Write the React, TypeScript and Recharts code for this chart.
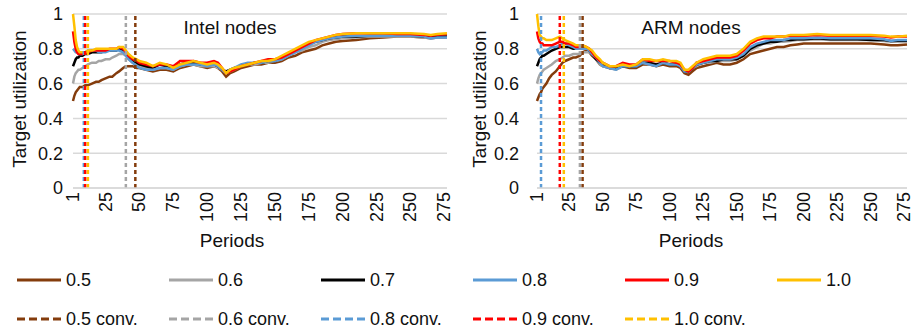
import React from "react";
import { LineChart, Line, XAxis, YAxis, CartesianGrid, ReferenceLine } from "recharts";

const FONT = '"Liberation Sans", Arial, sans-serif';

const periods = [
  1, 2, 3, 4, 5, 6, 8, 10, 12, 15,
  18, 20, 22, 25, 28, 30, 33, 35, 38, 40,
  42, 45, 48, 50, 55, 60, 65, 70, 75, 80,
  85, 90, 95, 100, 105, 108, 111, 114, 117, 120,
  125, 130, 135, 140, 145, 150, 155, 160, 165, 170,
  175, 180, 185, 190, 195, 200, 210, 220, 230, 240,
  250, 260, 265, 270, 277,
];

const xTicks = [1, 25, 50, 75, 100, 125, 150, 175, 200, 225, 250, 275];
const yTicks = [0, 0.2, 0.4, 0.6, 0.8, 1];

const seriesNames = ["0.5", "0.6", "0.7", "0.8", "0.9", "1.0"];
const seriesColors = ["#843C0C", "#A5A5A5", "#000000", "#5B9BD5", "#FF0000", "#FFC000"];

// Intel nodes
const intel05 = [
  0.50, 0.53, 0.55, 0.56, 0.57, 0.58, 0.58, 0.59, 0.59, 0.60,
  0.61, 0.61, 0.62, 0.63, 0.64, 0.64, 0.66, 0.67, 0.69, 0.70,
  0.70, 0.70, 0.69, 0.69, 0.68, 0.67, 0.68, 0.68, 0.67, 0.69,
  0.70, 0.71, 0.70, 0.69, 0.70, 0.69, 0.67, 0.64, 0.66, 0.67,
  0.69, 0.70, 0.71, 0.71, 0.72, 0.72, 0.73, 0.75, 0.76, 0.78,
  0.79, 0.80, 0.82, 0.83, 0.84, 0.845, 0.85, 0.86, 0.865, 0.87,
  0.87, 0.865, 0.86, 0.865, 0.865,
];
const intel06 = [
  0.60, 0.64, 0.66, 0.67, 0.68, 0.68, 0.69, 0.70, 0.71, 0.72,
  0.72, 0.73, 0.73, 0.74, 0.74, 0.75, 0.76, 0.77, 0.77, 0.76,
  0.74, 0.72, 0.71, 0.70, 0.69, 0.68, 0.69, 0.69, 0.68, 0.70,
  0.71, 0.71, 0.70, 0.70, 0.70, 0.69, 0.68, 0.66, 0.67, 0.68,
  0.70, 0.71, 0.71, 0.72, 0.72, 0.73, 0.74, 0.76, 0.78, 0.79,
  0.81, 0.82, 0.84, 0.85, 0.855, 0.86, 0.865, 0.87, 0.87, 0.87,
  0.87, 0.865, 0.86, 0.865, 0.865,
];
const intel07 = [
  0.70, 0.72, 0.74, 0.75, 0.75, 0.76, 0.76, 0.77, 0.77, 0.78,
  0.78, 0.78, 0.78, 0.79, 0.79, 0.79, 0.79, 0.80, 0.79, 0.77,
  0.75, 0.73, 0.72, 0.71, 0.70, 0.69, 0.71, 0.70, 0.69, 0.71,
  0.72, 0.72, 0.71, 0.71, 0.71, 0.70, 0.68, 0.67, 0.68, 0.69,
  0.70, 0.71, 0.72, 0.72, 0.73, 0.73, 0.75, 0.77, 0.79, 0.81,
  0.83, 0.84, 0.85, 0.86, 0.865, 0.87, 0.87, 0.875, 0.875, 0.875,
  0.875, 0.87, 0.865, 0.87, 0.87,
];
const intel08 = [
  0.80, 0.79, 0.78, 0.78, 0.77, 0.77, 0.77, 0.78, 0.79, 0.79,
  0.79, 0.78, 0.78, 0.78, 0.79, 0.79, 0.79, 0.79, 0.78, 0.76,
  0.74, 0.72, 0.70, 0.69, 0.68, 0.68, 0.69, 0.69, 0.68, 0.70,
  0.71, 0.71, 0.71, 0.70, 0.71, 0.70, 0.68, 0.66, 0.68, 0.69,
  0.71, 0.72, 0.72, 0.72, 0.73, 0.73, 0.74, 0.76, 0.78, 0.80,
  0.82, 0.84, 0.85, 0.86, 0.865, 0.87, 0.875, 0.875, 0.875, 0.875,
  0.875, 0.87, 0.86, 0.865, 0.865,
];
const intel09 = [
  0.90, 0.84, 0.80, 0.78, 0.77, 0.77, 0.77, 0.78, 0.78, 0.79,
  0.79, 0.79, 0.79, 0.79, 0.80, 0.80, 0.80, 0.81, 0.80, 0.78,
  0.76, 0.74, 0.73, 0.72, 0.71, 0.70, 0.71, 0.71, 0.70, 0.73,
  0.73, 0.73, 0.72, 0.72, 0.73, 0.72, 0.69, 0.66, 0.67, 0.68,
  0.70, 0.71, 0.72, 0.73, 0.74, 0.74, 0.75, 0.77, 0.79, 0.81,
  0.83, 0.85, 0.86, 0.87, 0.88, 0.885, 0.89, 0.89, 0.89, 0.885,
  0.885, 0.88, 0.875, 0.88, 0.885,
];
const intel10 = [
  1.00, 0.93, 0.85, 0.81, 0.79, 0.78, 0.78, 0.78, 0.79, 0.79,
  0.80, 0.80, 0.80, 0.80, 0.80, 0.80, 0.80, 0.81, 0.81, 0.79,
  0.77, 0.75, 0.74, 0.73, 0.72, 0.70, 0.72, 0.71, 0.69, 0.71,
  0.72, 0.73, 0.72, 0.71, 0.72, 0.71, 0.69, 0.66, 0.68, 0.69,
  0.70, 0.71, 0.72, 0.73, 0.73, 0.74, 0.76, 0.78, 0.80, 0.82,
  0.84, 0.85, 0.86, 0.87, 0.88, 0.885, 0.89, 0.89, 0.89, 0.89,
  0.89, 0.885, 0.88, 0.885, 0.89,
];

// ARM nodes
const arm05 = [
  0.50, 0.52, 0.54, 0.55, 0.57, 0.58, 0.60, 0.63, 0.65, 0.67,
  0.70, 0.72, 0.73, 0.74, 0.75, 0.75, 0.76, 0.78, 0.79, 0.78,
  0.76, 0.74, 0.71, 0.70, 0.69, 0.69, 0.70, 0.69, 0.69, 0.71,
  0.71, 0.70, 0.71, 0.70, 0.70, 0.69, 0.66, 0.65, 0.67, 0.69,
  0.70, 0.71, 0.72, 0.71, 0.71, 0.72, 0.74, 0.77, 0.78, 0.79,
  0.80, 0.81, 0.81, 0.82, 0.825, 0.83, 0.83, 0.83, 0.83, 0.83,
  0.83, 0.825, 0.82, 0.82, 0.825,
];
const arm06 = [
  0.60, 0.63, 0.65, 0.66, 0.67, 0.68, 0.69, 0.70, 0.71, 0.73,
  0.74, 0.75, 0.76, 0.76, 0.77, 0.77, 0.77, 0.78, 0.78, 0.78,
  0.77, 0.74, 0.71, 0.70, 0.69, 0.68, 0.70, 0.70, 0.70, 0.72,
  0.71, 0.71, 0.72, 0.71, 0.71, 0.70, 0.67, 0.67, 0.69, 0.70,
  0.72, 0.72, 0.73, 0.73, 0.73, 0.74, 0.76, 0.79, 0.81, 0.83,
  0.83, 0.84, 0.84, 0.845, 0.85, 0.85, 0.855, 0.85, 0.85, 0.85,
  0.85, 0.845, 0.84, 0.845, 0.845,
];
const arm07 = [
  0.70, 0.72, 0.74, 0.75, 0.76, 0.76, 0.77, 0.78, 0.79, 0.80,
  0.81, 0.81, 0.81, 0.81, 0.80, 0.80, 0.80, 0.80, 0.80, 0.79,
  0.77, 0.74, 0.72, 0.71, 0.69, 0.69, 0.70, 0.70, 0.70, 0.72,
  0.72, 0.71, 0.72, 0.71, 0.71, 0.70, 0.67, 0.67, 0.69, 0.71,
  0.72, 0.73, 0.73, 0.74, 0.74, 0.74, 0.76, 0.80, 0.82, 0.83,
  0.84, 0.84, 0.85, 0.85, 0.855, 0.855, 0.86, 0.855, 0.855, 0.855,
  0.85, 0.85, 0.845, 0.845, 0.845,
];
const arm08 = [
  0.80, 0.78, 0.77, 0.78, 0.78, 0.79, 0.79, 0.80, 0.81, 0.81,
  0.82, 0.83, 0.83, 0.82, 0.81, 0.80, 0.80, 0.80, 0.80, 0.79,
  0.77, 0.75, 0.72, 0.70, 0.69, 0.68, 0.70, 0.70, 0.70, 0.72,
  0.71, 0.70, 0.72, 0.71, 0.71, 0.70, 0.67, 0.67, 0.69, 0.71,
  0.72, 0.73, 0.74, 0.74, 0.74, 0.75, 0.77, 0.81, 0.83, 0.84,
  0.85, 0.85, 0.85, 0.86, 0.86, 0.86, 0.865, 0.86, 0.86, 0.86,
  0.86, 0.855, 0.845, 0.85, 0.85,
];
const arm09 = [
  0.90, 0.86, 0.84, 0.83, 0.83, 0.82, 0.82, 0.82, 0.82, 0.83,
  0.84, 0.84, 0.83, 0.83, 0.82, 0.81, 0.81, 0.82, 0.81, 0.80,
  0.78, 0.75, 0.73, 0.72, 0.70, 0.70, 0.72, 0.71, 0.71, 0.74,
  0.73, 0.73, 0.73, 0.73, 0.72, 0.71, 0.68, 0.67, 0.69, 0.72,
  0.73, 0.74, 0.75, 0.75, 0.75, 0.76, 0.79, 0.83, 0.85, 0.86,
  0.86, 0.87, 0.87, 0.875, 0.875, 0.875, 0.88, 0.875, 0.875, 0.875,
  0.875, 0.87, 0.865, 0.87, 0.87,
];
const arm10 = [
  1.00, 0.93, 0.88, 0.87, 0.86, 0.86, 0.85, 0.85, 0.85, 0.86,
  0.87, 0.86, 0.85, 0.84, 0.83, 0.82, 0.82, 0.82, 0.81, 0.80,
  0.79, 0.76, 0.74, 0.72, 0.70, 0.70, 0.71, 0.70, 0.71, 0.74,
  0.74, 0.73, 0.74, 0.73, 0.73, 0.72, 0.68, 0.68, 0.70, 0.72,
  0.74, 0.75, 0.76, 0.76, 0.76, 0.77, 0.80, 0.84, 0.86, 0.87,
  0.87, 0.87, 0.87, 0.88, 0.88, 0.88, 0.885, 0.88, 0.88, 0.88,
  0.88, 0.875, 0.87, 0.87, 0.875,
];

// convergence periods (vertical dashed lines)
const convNames = ["0.5 conv.", "0.6 conv.", "0.8 conv.", "0.9 conv.", "1.0 conv."];
const convColors = ["#843C0C", "#A5A5A5", "#5B9BD5", "#FF0000", "#FFC000"];
const intelConv = [47, 40, 9, 10, 12];
const armConv = [35, 33, 4, 18, 21];

const buildRows = (cols: number[][]) =>
  periods.map((p, i) => {
    const row: any = { period: p };
    cols.forEach((c, k) => (row["s" + k] = c[i]));
    return row;
  });

const intelRows = buildRows([intel05, intel06, intel07, intel08, intel09, intel10]);
const armRows = buildRows([arm05, arm06, arm07, arm08, arm09, arm10]);

const XTick = ({ x, y, payload }: any) => (
  <text
    x={x}
    y={y}
    transform={`rotate(-90 ${x} ${y})`}
    textAnchor="end"
    dominantBaseline="central"
    fontSize={18}
    fontFamily={FONT}
    fill="#111"
  >
    {payload.value}
  </text>
);

const fmtY = (v: number) => (v === 0 ? "0" : v === 1 ? "1" : v.toFixed(1));

const centered = (left: number, top: number, extra: any = {}) => ({
  position: "absolute" as const,
  left,
  top,
  transform: "translate(-50%, -50%)" + (extra.rotate ? " rotate(-90deg)" : ""),
  whiteSpace: "nowrap" as const,
  fontFamily: FONT,
  fontSize: 19,
  lineHeight: "19px",
  color: "#111",
});

interface PanelProps {
  rows: any[];
  conv: number[];
  width: number;
  tickGap: number;
}

const Panel = ({ rows, conv, width, tickGap }: PanelProps) => (
  <LineChart width={width} height={250} data={rows} margin={{ top: 14, right: 9, bottom: 0, left: 0 }}>
    <CartesianGrid vertical={false} stroke="#D9D9D9" strokeWidth={1.5} />
    <XAxis
      dataKey="period"
      type="number"
      domain={[1, 277]}
      ticks={xTicks}
      interval={0}
      height={62}
      tickSize={0}
      tickMargin={4}
      tickLine={false}
      axisLine={{ stroke: "#D9D9D9", strokeWidth: 1.5 }}
      tick={<XTick />}
    />
    <YAxis
      type="number"
      domain={[0, 1]}
      ticks={yTicks}
      width={73}
      tickSize={0}
      tickMargin={tickGap}
      tickLine={false}
      axisLine={false}
      tickFormatter={fmtY}
      tick={{ fontSize: 18, fontFamily: FONT, fill: "#111" }}
    />
    {seriesNames.map((name, k) => (
      <Line
        key={name}
        dataKey={"s" + k}
        name={name}
        type="linear"
        stroke={seriesColors[k]}
        strokeWidth={2.5}
        dot={false}
        isAnimationActive={false}
      />
    ))}
    {conv.map((p, k) => (
      <ReferenceLine
        key={convNames[k]}
        x={p}
        stroke={convColors[k]}
        strokeWidth={2.5}
        strokeDasharray="4 3"
      />
    ))}
  </LineChart>
);

const LegendItem = ({ label, color, dashed, left, top }: any) => (
  <div style={{ position: "absolute", left, top: top - 10, height: 20, display: "flex", alignItems: "center" }}>
    <svg width={44} height={6}>
      <line x1={0} y1={3} x2={44} y2={3} stroke={color} strokeWidth={3} strokeDasharray={dashed ? "8 4" : undefined} />
    </svg>
    <span style={{ marginLeft: 5, fontFamily: FONT, fontSize: 18, color: "#111", whiteSpace: "nowrap" }}>{label}</span>
  </div>
);

export default function App() {
  return (
    <div style={{ position: "absolute", left: 0, top: 0, width: 913, height: 329, background: "#fff", overflow: "hidden" }}>
      <div style={{ position: "absolute", left: 0, top: 0 }}>
        <Panel rows={intelRows} conv={intelConv} width={456} tickGap={10} />
      </div>
      <div style={{ position: "absolute", left: 464, top: 0 }}>
        <Panel rows={armRows} conv={armConv} width={452} tickGap={18} />
      </div>

      <div style={centered(230, 26.5)}>Intel nodes</div>
      <div style={centered(691, 26.5)}>ARM nodes</div>
      <div style={centered(232, 240)}>Periods</div>
      <div style={centered(691, 240)}>Periods</div>
      <div style={centered(18.5, 99, { rotate: true })}>Target utilization</div>
      <div style={centered(478.5, 99, { rotate: true })}>Target utilization</div>

      {seriesNames.map((name, k) => (
        <LegendItem key={name} label={name} color={seriesColors[k]} left={17 + k * 152} top={280} />
      ))}
      {convNames.map((name, k) => (
        <LegendItem key={name} label={name} color={convColors[k]} dashed left={17 + k * 152} top={319} />
      ))}
    </div>
  );
}
